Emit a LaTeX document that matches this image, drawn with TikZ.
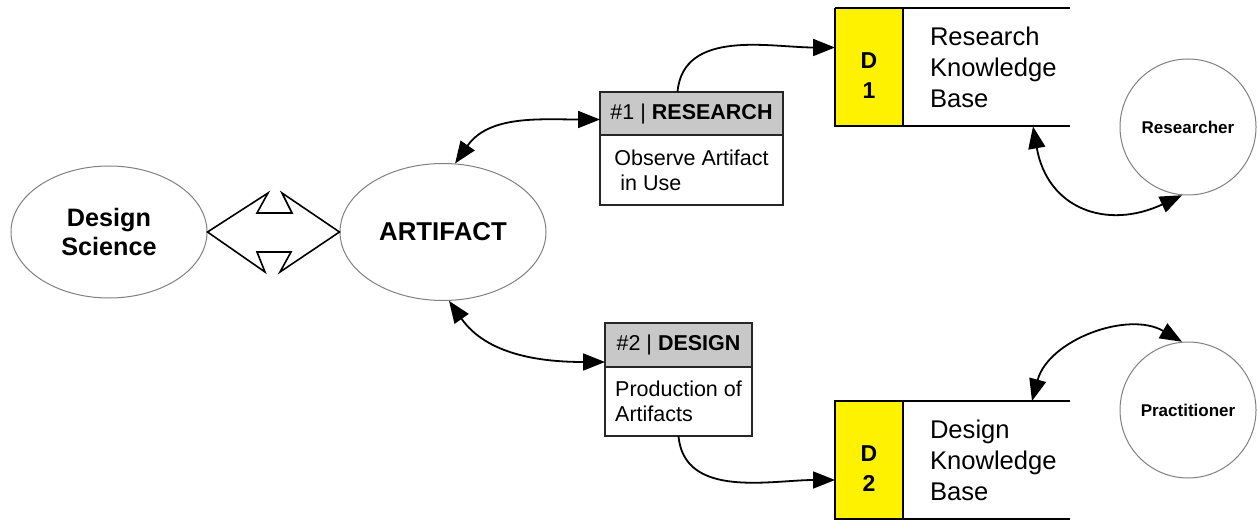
\documentclass[tikz,border=0pt]{standalone}
\usepackage{fontspec}
\setmainfont{Liberation Sans}
\usepackage{xcolor}
\usetikzlibrary{arrows.meta,positioning,shapes.geometric}
\definecolor{headgray}{RGB}{200,200,200}
\tikzset{%
	concept/.style   = {draw=gray, ellipse, line width=0.5pt, inner sep=0pt, align=center},
	actor/.style     = {draw=gray, circle, line width=0.5pt, minimum size=68pt, inner sep=0pt, font=\bfseries\fontsize{8.5}{10}\selectfont},
	taskhead/.style  = {draw=black!85, fill=headgray, rectangle, line width=0.8pt, inner sep=0pt, outer sep=0pt, font=\fontsize{10.75}{12.5}\selectfont},
	taskbody/.style  = {draw=black!85, rectangle, line width=0.8pt, inner sep=0pt, outer sep=0pt, align=left, font=\fontsize{10.75}{12.5}\selectfont},
	storeid/.style   = {draw=black, fill=yellow, rectangle, line width=0.9pt, minimum width=34pt, minimum height=59pt, inner sep=0pt, outer sep=0pt, align=center, font=\bfseries\fontsize{11.5}{15}\selectfont},
	storetext/.style = {inner xsep=13.5pt, inner ysep=0pt, outer sep=0pt, align=left, font=\fontsize{12.8}{15.5}\selectfont},
	storeline/.style = {line width=1pt},
	link/.style      = {line width=0.9pt, {Triangle[length=11pt,width=8.5pt]}-{Triangle[length=11pt,width=8.5pt]}},
	feed/.style      = {line width=0.9pt, -{Triangle[length=11pt,width=8.5pt]}},
}

\begin{document}
\begin{tikzpicture}[x=0.5pt,y=0.5pt]
	\useasboundingbox (0,0) rectangle (1257,520);
	
	\node[concept, minimum width=98pt, minimum height=66pt, font=\bfseries\fontsize{12.6}{14.5}\selectfont] (ds) at (109,288) {Design\\Science};
	\node[concept, minimum width=103pt, minimum height=68.5pt, font=\bfseries\fontsize{12.9}{15}\selectfont] (art) at (443,288) {ARTIFACT};
	\draw[line width=0.8pt] (ds.east) -- (268,327) -- (257,307) -- (292,307) -- (282,327) -- (art.west)
		-- (280,248) -- (291,268) -- (257,268) -- (265,248) -- cycle;  % double block arrow
	
	% activities
	\node[taskhead, minimum width=91.5pt, minimum height=21.5pt] (reshead) at (691.5,406.5) {\#1 | \textbf{RESEARCH}};
	\node[taskbody, minimum width=91.5pt, minimum height=35pt, below=0pt of reshead] (resbody) {Observe Artifact\\\mbox{} in Use};
	\node[taskhead, minimum width=73.5pt, minimum height=22pt] (deshead) at (678.5,175) {\#2 | \textbf{DESIGN}};
	\node[taskbody, minimum width=73.5pt, minimum height=34.5pt, below=0pt of deshead] (desbody) {Production of\\Artifacts};
	
	% knowledge bases
	\node[storeid] (d1) at (869,452.5) {\rule{0pt}{16pt}D\\1};
	\node[storetext, right=0pt of d1] (kb1) {Research\\Knowledge\\Base};
	\draw[storeline] (d1.north west) -- ++(235,0);
	\draw[storeline] (d1.south west) -- ++(235,0);
	\coordinate (kb1port) at ([xshift=99pt]d1.south west);
	
	\node[storeid] (d2) at (869,60) {\rule{0pt}{16pt}D\\2};
	\node[storetext, right=0pt of d2] (kb2) {Design\\Knowledge\\Base};
	\draw[storeline] (d2.north west) -- ++(235,0);
	\draw[storeline] (d2.south west) -- ++(235,0);
	\coordinate (kb2port) at ([xshift=98.5pt]d2.north west);
	
	% roles
	\node[actor] (researcher) at (1188,393) {Researcher};
	\node[actor] (practitioner) at (1188,110) {Practitioner};
	
	\draw[link] (art.80) to[out=55,in=180] ([yshift=-3pt]reshead.west);
	\draw[link] (art.-85) to[out=-55,in=180] ([yshift=2.5pt]deshead.south west);
	\draw[feed] ([xshift=-7pt]reshead.north) to[out=85,in=180] ([yshift=10pt]d1.west);
	\draw[feed] (desbody.south) to[out=-85,in=180] ([yshift=-10pt]d2.west);
	\draw[link] (kb1port) to[out=-80,in=205,looseness=1.3] (researcher.265);
	\draw[link] (kb2port) to[out=75,in=150] (practitioner.95);
\end{tikzpicture}
\end{document}
